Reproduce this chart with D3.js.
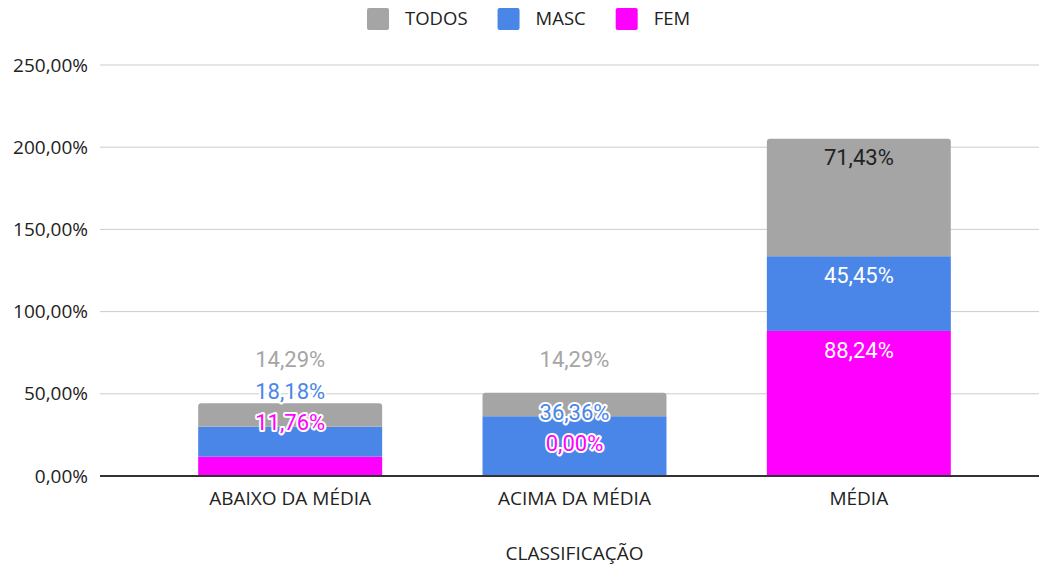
<!DOCTYPE html>
<html>
<head>
<meta charset="utf-8">
<script src="https://cdn.jsdelivr.net/npm/d3@7"></script>
<style>
  body { margin: 0; background: #fff; }
  text { font-family: "Open Sans", sans-serif; }
  .data-label { font-family: Roboto, sans-serif; }
</style>
</head>
<body>
<div id="chart"></div>
<script>
// Data
const categories = ["ABAIXO DA MÉDIA", "ACIMA DA MÉDIA", "MÉDIA"];
const seriesNames = ["FEM", "MASC", "TODOS"]; // stacking order, bottom to top
const femValues = [11.76, 0.0, 88.24];
const mascValues = [18.18, 36.36, 45.45];
const todosValues = [14.29, 14.29, 71.43];
const yTicks = [0, 50, 100, 150, 200, 250];
const legendOrder = ["TODOS", "MASC", "FEM"];

const colors = { TODOS: "#a5a5a5", MASC: "#4a86e8", FEM: "#ff00ff" };
const insideText = { TODOS: "#222222", MASC: "#ffffff", FEM: "#ffffff" };

const W = 1039, H = 566;
const plot = { left: 100, right: 1039, top: 65, bottom: 476 };

const ptBR = d3.formatLocale({ decimal: ",", thousands: ".", grouping: [3], currency: ["R$", ""] });
const fmt = (v) => ptBR.format(".2f")(v) + "%";

const rows = categories.map((c, i) => ({
  cat: c, FEM: femValues[i], MASC: mascValues[i], TODOS: todosValues[i]
}));
const stacked = d3.stack().keys(seriesNames)(rows);

const svg = d3.select("#chart").append("svg")
  .attr("width", W).attr("height", H);

const x = d3.scaleBand().domain(categories).range([148, 1001])
  .paddingInner(0.353).paddingOuter(0.1765);
const y = d3.scaleLinear().domain([0, 250]).range([plot.bottom, plot.top]);

// Grid lines + y labels
svg.append("g").selectAll("line").data(yTicks.filter(d => d > 0)).join("line")
  .attr("x1", plot.left).attr("x2", plot.right)
  .attr("y1", d => y(d)).attr("y2", d => y(d))
  .attr("stroke", "#cccccc").attr("stroke-width", 1);

svg.append("g").selectAll("text").data(yTicks).join("text")
  .attr("x", 88).attr("y", d => y(d)).attr("dy", "0.35em")
  .attr("text-anchor", "end")
  .attr("font-size", 19).attr("fill", "#222")
  .text(d => fmt(d));

// Bars
const topKey = seriesNames[seriesNames.length - 1];
const layers = svg.append("g").selectAll("g").data(stacked).join("g")
  .attr("fill", d => colors[d.key]);

layers.each(function (layer) {
  const g = d3.select(this);
  layer.forEach((d) => {
    const x0 = x(d.data.cat), w = x.bandwidth();
    const y0 = y(d[1]), y1 = y(d[0]);
    if (y1 - y0 <= 0) return;
    if (layer.key === topKey) {
      const r = 3;
      g.append("path").attr("d",
        `M${x0},${y1}V${y0 + r}Q${x0},${y0} ${x0 + r},${y0}H${x0 + w - r}Q${x0 + w},${y0} ${x0 + w},${y0 + r}V${y1}Z`);
    } else {
      g.append("rect").attr("x", x0).attr("y", y0).attr("width", w).attr("height", y1 - y0);
    }
  });
});

// Zero axis
svg.append("line")
  .attr("x1", plot.left).attr("x2", plot.right)
  .attr("y1", y(0)).attr("y2", y(0))
  .attr("stroke", "#333").attr("stroke-width", 2);

// X axis labels
svg.append("g").selectAll("text").data(categories).join("text")
  .attr("x", d => x(d) + x.bandwidth() / 2).attr("y", 505)
  .attr("text-anchor", "middle").attr("font-size", 19).attr("fill", "#222")
  .text(d => d);

svg.append("text")
  .attr("x", (148 + 1001) / 2).attr("y", 560)
  .attr("text-anchor", "middle").attr("font-size", 19).attr("fill", "#222")
  .text("CLASSIFICAÇÃO");

// Data labels layout
const minFit = 30, spacing = 31.5;
const labels = [];
categories.forEach((c, i) => {
  const segs = stacked.map(s => ({
    key: s.key, value: s[i].data[s.key],
    top: y(s[i][1]), bottom: y(s[i][0])
  }));
  const crowded = segs.some(s => s.bottom - s.top < minFit);
  segs.forEach(s => labels.push({ cat: c, crowded, ...s }));
});

// crowded bars: labels share a common line above the shortest bar tops
const crowdedTops = categories.map(c => d3.min(labels.filter(l => l.cat === c), l => l.top));
const crowdedCats = categories.filter(c => labels.find(l => l.cat === c).crowded);
const commonLine = d3.min(crowdedCats, c => crowdedTops[categories.indexOf(c)]) - 33;

categories.forEach(c => {
  const ls = labels.filter(l => l.cat === c).reverse(); // top to bottom
  if (!ls[0].crowded) {
    ls.forEach(l => { l.y = l.top + 19; });
    return;
  }
  let prev = null;
  ls.forEach(l => {
    if (prev === null) l.y = commonLine;
    else {
      const pref = (l.bottom - l.top) >= 40 ? l.top - 4 : -Infinity;
      l.y = Math.max(prev + spacing, pref);
    }
    prev = l.y;
  });
});

const lbl = svg.append("g").selectAll("text").data(labels).join("text")
  .attr("class", "data-label")
  .attr("x", d => x(d.cat) + x.bandwidth() / 2)
  .attr("y", d => d.y).attr("dy", "0.35em")
  .attr("text-anchor", "middle").attr("font-size", 22)
  .text(d => fmt(d.value));

lbl.filter(d => d.crowded)
  .attr("fill", d => colors[d.key])
  .attr("stroke", "#fff").attr("stroke-width", 4)
  .attr("stroke-linejoin", "round").attr("paint-order", "stroke");
lbl.filter(d => !d.crowded).attr("fill", d => insideText[d.key]);

// Legend
const legend = svg.append("g").attr("transform", "translate(367,0)");
let lx = 0;
legendOrder.forEach(k => {
  legend.append("rect").attr("x", lx).attr("y", 8).attr("width", 22).attr("height", 22)
    .attr("rx", 2).attr("fill", colors[k]);
  const t = legend.append("text").attr("x", lx + 38).attr("y", 19).attr("dy", "0.35em")
    .attr("font-size", 18.5).attr("fill", "#222").text(k);
  lx += 38 + t.node().getComputedTextLength() + 30;
});
</script>
</body>
</html>
